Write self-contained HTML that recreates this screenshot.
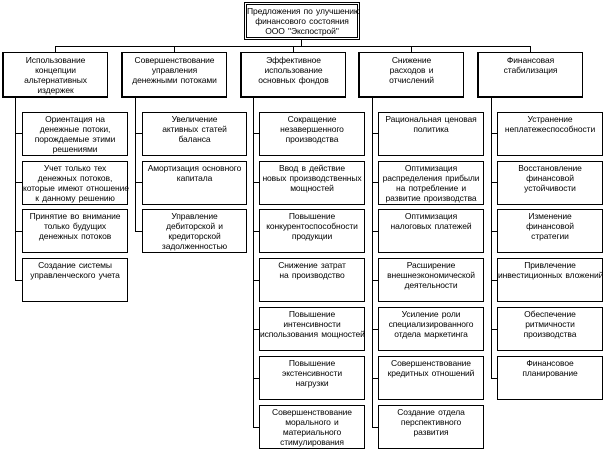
<!DOCTYPE html>
<html><head><meta charset="utf-8"><style>
body{margin:0;width:603px;height:450px;background:#fff;position:relative;overflow:hidden;font-family:"Liberation Sans",Arial,sans-serif;}
.b{position:absolute;box-sizing:border-box;border:1px solid #000;background:#fff;text-align:center;font-size:8.5px;line-height:10px;letter-spacing:-0.1px;word-spacing:1px;padding-top:1px;color:#000;white-space:nowrap;overflow:visible;}
.c{border-left:2px solid #000;border-bottom:2px solid #000;padding-top:2px;}
.l{position:absolute;background:#000;}
</style></head><body>
<div class="b" style="left:244px;top:2px;width:116px;height:38px;border:3px double #000;padding-top:1px;">Предложения по улучшению<br>финансового состояния<br>ООО "Экспострой"</div>
<div class="l" style="left:301px;top:39px;width:1px;height:7px"></div>
<div class="l" style="left:55px;top:46px;width:476px;height:1px"></div>
<div class="l" style="left:55px;top:46px;width:1px;height:6px"></div>
<div class="l" style="left:174px;top:46px;width:1px;height:6px"></div>
<div class="l" style="left:293px;top:46px;width:1px;height:6px"></div>
<div class="l" style="left:411px;top:46px;width:1px;height:6px"></div>
<div class="l" style="left:530px;top:46px;width:1px;height:6px"></div>

<div class="b c" style="left:2px;top:52px;width:106px;height:46px">Использование<br>концепции<br>альтернативных<br>издержек</div>
<div class="b c" style="left:121px;top:52px;width:106px;height:46px">Совершенствование<br>управления<br>денежными потоками</div>
<div class="b c" style="left:240px;top:52px;width:106px;height:46px">Эффективное<br>использование<br>основных фондов</div>
<div class="b c" style="left:358px;top:52px;width:106px;height:46px">Снижение<br>расходов и<br>отчислений</div>
<div class="b c" style="left:477px;top:52px;width:106px;height:46px">Финансовая<br>стабилизация</div>

<div class="l" style="left:15px;top:97px;width:1px;height:184px"></div>
<div class="l" style="left:135px;top:97px;width:1px;height:135px"></div>
<div class="l" style="left:253px;top:97px;width:1px;height:331px"></div>
<div class="l" style="left:372px;top:97px;width:1px;height:331px"></div>
<div class="l" style="left:491px;top:97px;width:1px;height:282px"></div>

<div class="l" style="left:15px;top:133px;width:7px;height:1px"></div>
<div class="l" style="left:15px;top:182px;width:7px;height:1px"></div>
<div class="l" style="left:15px;top:231px;width:7px;height:1px"></div>
<div class="l" style="left:15px;top:280px;width:7px;height:1px"></div>
<div class="l" style="left:135px;top:133px;width:7px;height:1px"></div>
<div class="l" style="left:135px;top:182px;width:7px;height:1px"></div>
<div class="l" style="left:135px;top:231px;width:7px;height:1px"></div>
<div class="l" style="left:253px;top:133px;width:6px;height:1px"></div>
<div class="l" style="left:253px;top:182px;width:6px;height:1px"></div>
<div class="l" style="left:253px;top:231px;width:6px;height:1px"></div>
<div class="l" style="left:253px;top:280px;width:6px;height:1px"></div>
<div class="l" style="left:253px;top:329px;width:6px;height:1px"></div>
<div class="l" style="left:253px;top:378px;width:6px;height:1px"></div>
<div class="l" style="left:253px;top:427px;width:6px;height:1px"></div>
<div class="l" style="left:372px;top:133px;width:6px;height:1px"></div>
<div class="l" style="left:372px;top:182px;width:6px;height:1px"></div>
<div class="l" style="left:372px;top:231px;width:6px;height:1px"></div>
<div class="l" style="left:372px;top:280px;width:6px;height:1px"></div>
<div class="l" style="left:372px;top:329px;width:6px;height:1px"></div>
<div class="l" style="left:372px;top:378px;width:6px;height:1px"></div>
<div class="l" style="left:372px;top:427px;width:6px;height:1px"></div>
<div class="l" style="left:491px;top:133px;width:6px;height:1px"></div>
<div class="l" style="left:491px;top:182px;width:6px;height:1px"></div>
<div class="l" style="left:491px;top:231px;width:6px;height:1px"></div>
<div class="l" style="left:491px;top:280px;width:6px;height:1px"></div>
<div class="l" style="left:491px;top:329px;width:6px;height:1px"></div>
<div class="l" style="left:491px;top:378px;width:6px;height:1px"></div>

<div class="b" style="left:22px;top:112px;width:106px;height:44px">Ориентация на<br>денежные потоки,<br>порождаемые этими<br>решениями</div>
<div class="b" style="left:22px;top:161px;width:106px;height:44px">Учет только тех<br>денежных потоков,<br>которые имеют отношение<br>к данному решению</div>
<div class="b" style="left:22px;top:209px;width:106px;height:44px">Принятие во внимание<br>только будущих<br>денежных потоков</div>
<div class="b" style="left:22px;top:258px;width:106px;height:44px">Создание системы<br>управленческого учета</div>

<div class="b" style="left:142px;top:112px;width:105px;height:44px">Увеличение<br>активных статей<br>баланса</div>
<div class="b" style="left:142px;top:161px;width:105px;height:44px">Амортизация основного<br>капитала</div>
<div class="b" style="left:142px;top:209px;width:105px;height:44px">Управление<br>дебиторской и<br>кредиторской<br>задолженностью</div>

<div class="b" style="left:259px;top:112px;width:106px;height:44px">Сокращение<br>незавершенного<br>производства</div>
<div class="b" style="left:259px;top:161px;width:106px;height:44px">Ввод в действие<br>новых производственных<br>мощностей</div>
<div class="b" style="left:259px;top:209px;width:106px;height:44px">Повышение<br>конкурентоспособности<br>продукции</div>
<div class="b" style="left:259px;top:258px;width:106px;height:44px">Снижение затрат<br>на производство</div>
<div class="b" style="left:259px;top:307px;width:106px;height:44px">Повышение<br>интенсивности<br>использования мощностей</div>
<div class="b" style="left:259px;top:356px;width:106px;height:44px">Повышение<br>экстенсивности<br>нагрузки</div>
<div class="b" style="left:259px;top:405px;width:106px;height:44px">Совершенствование<br>морального и<br>материального<br>стимулирования</div>

<div class="b" style="left:378px;top:112px;width:106px;height:44px">Рациональная ценовая<br>политика</div>
<div class="b" style="left:378px;top:161px;width:106px;height:44px">Оптимизация<br>распределения прибыли<br>на потребление и<br>развитие производства</div>
<div class="b" style="left:378px;top:209px;width:106px;height:44px">Оптимизация<br>налоговых платежей</div>
<div class="b" style="left:378px;top:258px;width:106px;height:44px">Расширение<br>внешнеэкономической<br>деятельности</div>
<div class="b" style="left:378px;top:307px;width:106px;height:44px">Усиление роли<br>специализированного<br>отдела маркетинга</div>
<div class="b" style="left:378px;top:356px;width:106px;height:44px">Совершенствование<br>кредитных отношений</div>
<div class="b" style="left:378px;top:405px;width:106px;height:44px">Создание отдела<br>перспективного<br>развития</div>

<div class="b" style="left:497px;top:112px;width:106px;height:44px">Устранение<br>неплатежеспособности</div>
<div class="b" style="left:497px;top:161px;width:106px;height:44px">Восстановление<br>финансовой<br>устойчивости</div>
<div class="b" style="left:497px;top:209px;width:106px;height:44px">Изменение<br>финансовой<br>стратегии</div>
<div class="b" style="left:497px;top:258px;width:106px;height:44px">Привлечение<br>инвестиционных вложений</div>
<div class="b" style="left:497px;top:307px;width:106px;height:44px">Обеспечение<br>ритмичности<br>производства</div>
<div class="b" style="left:497px;top:356px;width:106px;height:44px">Финансовое<br>планирование</div>
</body></html>
